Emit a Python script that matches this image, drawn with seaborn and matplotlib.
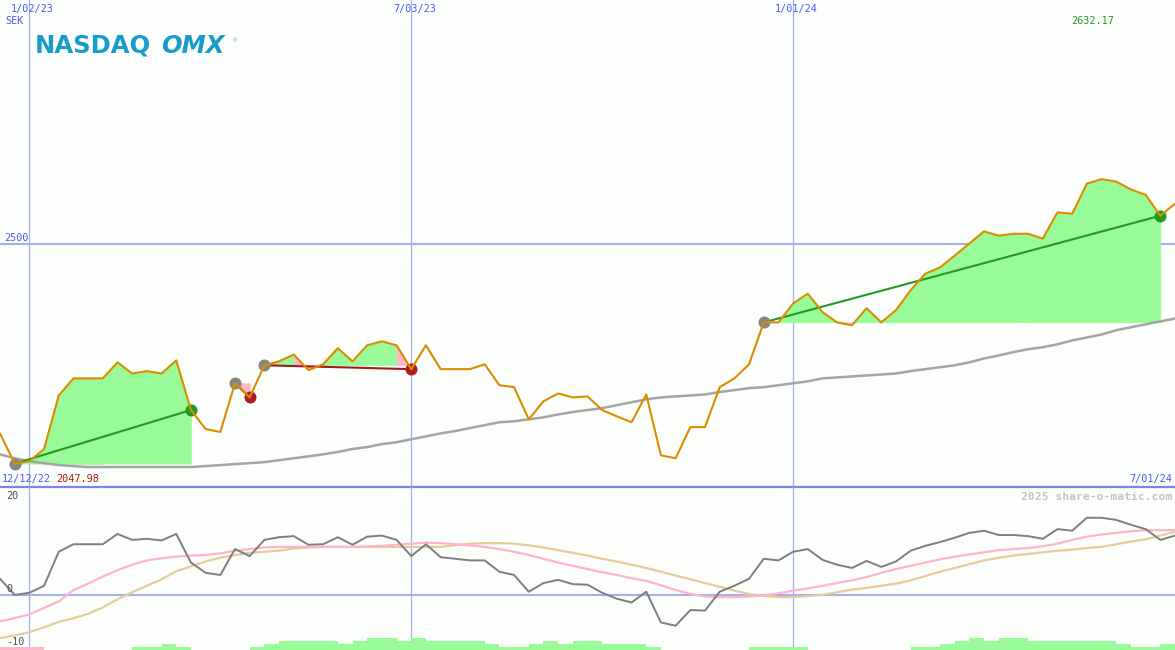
import matplotlib
matplotlib.use("Agg")
import matplotlib.pyplot as plt
import matplotlib.dates as mdates
import matplotlib.transforms as mtrans
import numpy as np
import pandas as pd
import seaborn as sns

# ---------------- data ----------------
weeks = pd.date_range("2022-12-19", periods=81, freq="7D")

close = [2110, 2047.98, 2053, 2078, 2188, 2223, 2223, 2223, 2256, 2233,
         2238, 2233, 2260, 2158, 2119, 2113, 2213, 2184, 2250, 2258,
         2272, 2240, 2252, 2285, 2258, 2291, 2299, 2291, 2242, 2291,
         2242, 2242, 2242, 2252, 2209, 2205, 2139, 2176, 2192, 2184,
         2186, 2158, 2145, 2133, 2190, 2065, 2059, 2123, 2123, 2205,
         2223, 2252, 2338, 2338, 2377, 2397, 2359, 2338, 2332, 2367,
         2338, 2363, 2404, 2438, 2451, 2475, 2500, 2525, 2516, 2520,
         2520, 2510, 2564, 2561, 2623, 2632.17, 2627, 2611, 2600, 2557,
         2582]

ma_long = [2067, 2059, 2053, 2049, 2045, 2043, 2041, 2041, 2041, 2041,
           2041, 2041, 2041, 2041, 2043, 2045, 2047, 2049, 2051, 2055,
           2059, 2063, 2067, 2072, 2078, 2082, 2088, 2092, 2098, 2104,
           2110, 2115, 2121, 2127, 2133, 2135, 2139, 2143, 2149, 2154,
           2158, 2162, 2168, 2174, 2180, 2184, 2186, 2188, 2190, 2195,
           2199, 2203, 2205, 2209, 2213, 2217, 2223, 2225, 2227, 2229,
           2231, 2233, 2238, 2242, 2246, 2250, 2256, 2264, 2270, 2277,
           2283, 2287, 2293, 2301, 2307, 2313, 2322, 2328, 2334, 2340,
           2346]

osc = [3.0, 0.0, 0.4, 1.7, 8.0, 9.4, 9.4, 9.4, 11.3, 10.2,
       10.4, 10.1, 11.3, 6.0, 4.1, 3.7, 8.5, 7.2, 10.2, 10.7,
       10.9, 9.3, 9.4, 10.7, 9.3, 10.8, 11.0, 10.2, 7.2, 9.4,
       7.0, 6.7, 6.4, 6.4, 4.3, 3.7, 0.6, 2.2, 2.8, 2.0,
       1.9, 0.4, -0.7, -1.4, 0.6, -5.1, -5.7, -2.8, -2.9, 0.6,
       1.7, 3.0, 6.7, 6.4, 8.0, 8.5, 6.5, 5.6, 5.0, 6.3,
       5.2, 6.2, 8.2, 9.1, 9.8, 10.6, 11.5, 11.9, 11.1, 11.1,
       10.9, 10.4, 12.2, 11.9, 14.3, 14.3, 13.9, 13.0, 12.2, 10.2,
       11.0]

osc_fast = [-4.9, -4.3, -3.6, -2.4, -1.2, 0.9, 2.1, 3.4, 4.6, 5.6,
            6.4, 6.8, 7.1, 7.3, 7.4, 7.7, 8.2, 8.5, 8.8, 8.9,
            8.9, 8.9, 8.9, 8.9, 8.9, 9.0, 9.1, 9.3, 9.5, 9.7,
            9.6, 9.4, 9.2, 8.9, 8.5, 8.0, 7.4, 6.7, 6.0, 5.4,
            4.8, 4.2, 3.7, 3.1, 2.6, 1.8, 0.9, 0.2, -0.3, -0.4,
            -0.4, -0.3, -0.1, 0.3, 0.8, 1.2, 1.7, 2.2, 2.7, 3.3,
            4.1, 4.8, 5.4, 6.0, 6.6, 7.1, 7.5, 7.9, 8.3, 8.5,
            8.7, 9.0, 9.5, 10.2, 10.8, 11.2, 11.5, 11.8, 12.0, 12.0,
            12.0]

osc_slow = [-8.0, -7.5, -6.9, -6.0, -5.0, -4.3, -3.5, -2.3, -0.8, 0.5,
            1.7, 2.9, 4.4, 5.3, 6.2, 6.9, 7.4, 7.8, 8.0, 8.2,
            8.6, 8.8, 8.9, 8.9, 8.9, 8.9, 8.9, 8.9, 8.9, 8.9,
            8.9, 9.2, 9.5, 9.6, 9.6, 9.5, 9.2, 8.8, 8.3, 7.8,
            7.3, 6.7, 6.2, 5.6, 5.0, 4.3, 3.6, 2.9, 2.2, 1.5,
            0.8, 0.2, -0.2, -0.4, -0.4, -0.2, 0.0, 0.5, 1.0, 1.3,
            1.7, 2.1, 2.7, 3.5, 4.3, 5.0, 5.7, 6.4, 6.9, 7.3,
            7.6, 7.9, 8.2, 8.4, 8.7, 8.9, 9.4, 9.9, 10.3, 11.0,
            11.7]

hist_levels = [-1, -1, -1, 0, 0, 0, 0, 0, 0, 1,
               1, 2, 1, 0, 0, 0, 0, 1, 2, 3,
               3, 3, 3, 2, 3, 4, 4, 3, 4, 3,
               3, 3, 3, 2, 1, 1, 2, 3, 2, 3,
               3, 2, 2, 2, 1, 0, 0, 0, 0, 0,
               0, 1, 1, 1, 1, 0, 0, 0, 0, 0,
               0, 0, 1, 1, 2, 3, 4, 3, 4, 4,
               3, 3, 3, 3, 3, 3, 2, 1, 1, 2,
               0]

sig_start = [1, 16, 18, 52]
sig_end = [13, 17, 28, 79]
sig_kind = ["buy", "sell", "sell", "buy"]

grid_dates = ["2023-01-02", "2023-07-03", "2024-01-01"]
grid_labels = ["1/02/23", "7/03/23", "1/01/24"]
price_grid = 2500
first_label, low_label = "12/12/22", "2047.98"
high_label = "2632.17"
last_label = "7/01/24"
osc_labels = ["20", "0", "-10"]

# ---------------- style ----------------
sns.set_theme(style="white")
plt.rcParams["font.family"] = ["DejaVu Sans Mono", "DejaVu Sans"]

BG = "#fcfefc"
BLUE_TXT = "#4a58f0"
GRID = "#a6aef2"
GREEN_FILL = "#98fb98"
PINK_FILL = "#ffb6c8"
W, H = 1175, 650
SPLIT = 487

fig = plt.figure(figsize=(W / 100, H / 100), dpi=100, facecolor=BG)
ax = fig.add_axes([0, 1 - SPLIT / H, 1, SPLIT / H])
ax2 = fig.add_axes([0, 0, 1, (H - SPLIT) / H])
for a in (ax, ax2):
    a.set_facecolor(BG)
    a.set_axis_off()

x = mdates.date2num(np.asarray(weeks))
c = np.array(close, dtype=float)

ax.set_xlim(x[0], x[-1])
ax2.set_xlim(x[0], x[-1])
ax.set_ylim(2000, 3000)
ax2.set_ylim(-10.2, 20)

# grid
for d in grid_dates:
    xd = mdates.date2num(pd.Timestamp(d))
    ax.axvline(xd, color=GRID, lw=0.9, zorder=1)
    ax2.axvline(xd, color=GRID, lw=0.9, zorder=1)
ax.axhline(price_grid, color=GRID, lw=1.5, zorder=1)
ax2.axhline(0, color=GRID, lw=1.5, zorder=1)
ax.axhline(2000, color="#7886e6", lw=1.6, zorder=9, clip_on=False)

# signal fills, trend lines and markers
for s, e, kind in zip(sig_start, sig_end, sig_kind):
    base = c[s]
    for k in range(s, e):
        xs = x[k:k + 2]
        ys = c[k:k + 2]
        trend_next = c[s] + (c[e] - c[s]) * (k + 1 - s) / (e - s)
        if kind == "sell" and c[k + 1] <= trend_next:
            ax.fill_between(xs, ys, base, color=PINK_FILL, lw=0.4,
                            edgecolor=PINK_FILL, zorder=2)
        else:
            ax.fill_between(xs, ys, base, where=ys >= base, interpolate=True,
                            color=GREEN_FILL, lw=0.4, edgecolor=GREEN_FILL, zorder=2)
            ax.fill_between(xs, ys, base, where=ys < base, interpolate=True,
                            color=PINK_FILL, lw=0.4, edgecolor=PINK_FILL, zorder=2)
    tcol = "#229a22" if kind == "buy" else "#a01c1c"
    ax.plot([x[s], x[e]], [c[s], c[e]], color=tcol, lw=1.5, zorder=4)
    ax.scatter([x[s]], [c[s]], s=75, color="#858585", lw=0, zorder=5)
    ax.scatter([x[e]], [c[e]], s=75, color=("#229a22" if kind == "buy" else "#aa2020"),
               lw=0, zorder=5)

# price lines
sns.lineplot(x=x, y=ma_long, ax=ax, color="#a4a4a4", lw=1.8, estimator=None,
             sort=False, legend=False, zorder=3)
sns.lineplot(x=x, y=close, ax=ax, color="#dc8c00", lw=1.5, estimator=None,
             sort=False, legend=False, zorder=6)

# lower panel
heights = [abs(l) * 0.55 for l in hist_levels]
colors = [GREEN_FILL if l > 0 else PINK_FILL for l in hist_levels]
ax2.bar(x, heights, width=7, align="edge", bottom=-10.2, color=colors, lw=0, zorder=1)
sns.lineplot(x=x, y=osc_slow, ax=ax2, color="#e6cc9c", lw=1.6, estimator=None,
             sort=False, legend=False, zorder=3)
sns.lineplot(x=x, y=osc_fast, ax=ax2, color="#ffb4cc", lw=1.6, estimator=None,
             sort=False, legend=False, zorder=4)
sns.lineplot(x=x, y=osc, ax=ax2, color="#7e7e7e", lw=1.4, estimator=None,
             sort=False, legend=False, zorder=5)


# ---------------- text ----------------
def ptext(px, py, s, **kw):
    kw.setdefault("va", "center")
    kw.setdefault("fontsize", 7.3)
    fig.text(px / W, 1 - py / H, s, **kw)


blend = mtrans.blended_transform_factory(ax.transData, fig.transFigure)
for d, lab in zip(grid_dates, grid_labels):
    xd = mdates.date2num(pd.Timestamp(d))
    ax.text(xd + 1.5, 1 - 9 / H, lab, transform=blend, ha="center", va="center",
            fontsize=7.3, color=BLUE_TXT)

ptext(5, 21, "SEK", ha="left", color=BLUE_TXT)
ptext(29, 238, str(price_grid), ha="right", color=BLUE_TXT)
ptext(1093, 21, high_label, ha="center", color="#229a22")
ptext(2, 479, first_label, ha="left", color=BLUE_TXT)
ptext(56, 479, low_label, ha="left", color="#a81c1c")
ptext(1172, 479, last_label, ha="right", color=BLUE_TXT)
ptext(1172, 497, "2025 share-o-matic.com", ha="right", color="#c4c4c4",
      fontweight="bold", fontsize=8.2)
for lab, py in zip(osc_labels, [496, 589, 642]):
    ptext(6, py, lab, ha="left", color="#505050")

# logo
fig.text(35 / W, 1 - 53 / H, "NASDAQ", ha="left", va="baseline", fontsize=17.5,
         fontweight="heavy", color="#1a9ccb", family="DejaVu Sans")
fig.text(161 / W, 1 - 53 / H, "OMX", ha="left", va="baseline", fontsize=17.5,
         fontweight="heavy", style="italic", color="#1a9ccb", family="DejaVu Sans")
fig.text(231 / W, 1 - 41 / H, "®", ha="left", va="center", fontsize=4.5,
         color="#7aaacb", family="DejaVu Sans")

fig.savefig("out.png", dpi=100, facecolor=BG)
